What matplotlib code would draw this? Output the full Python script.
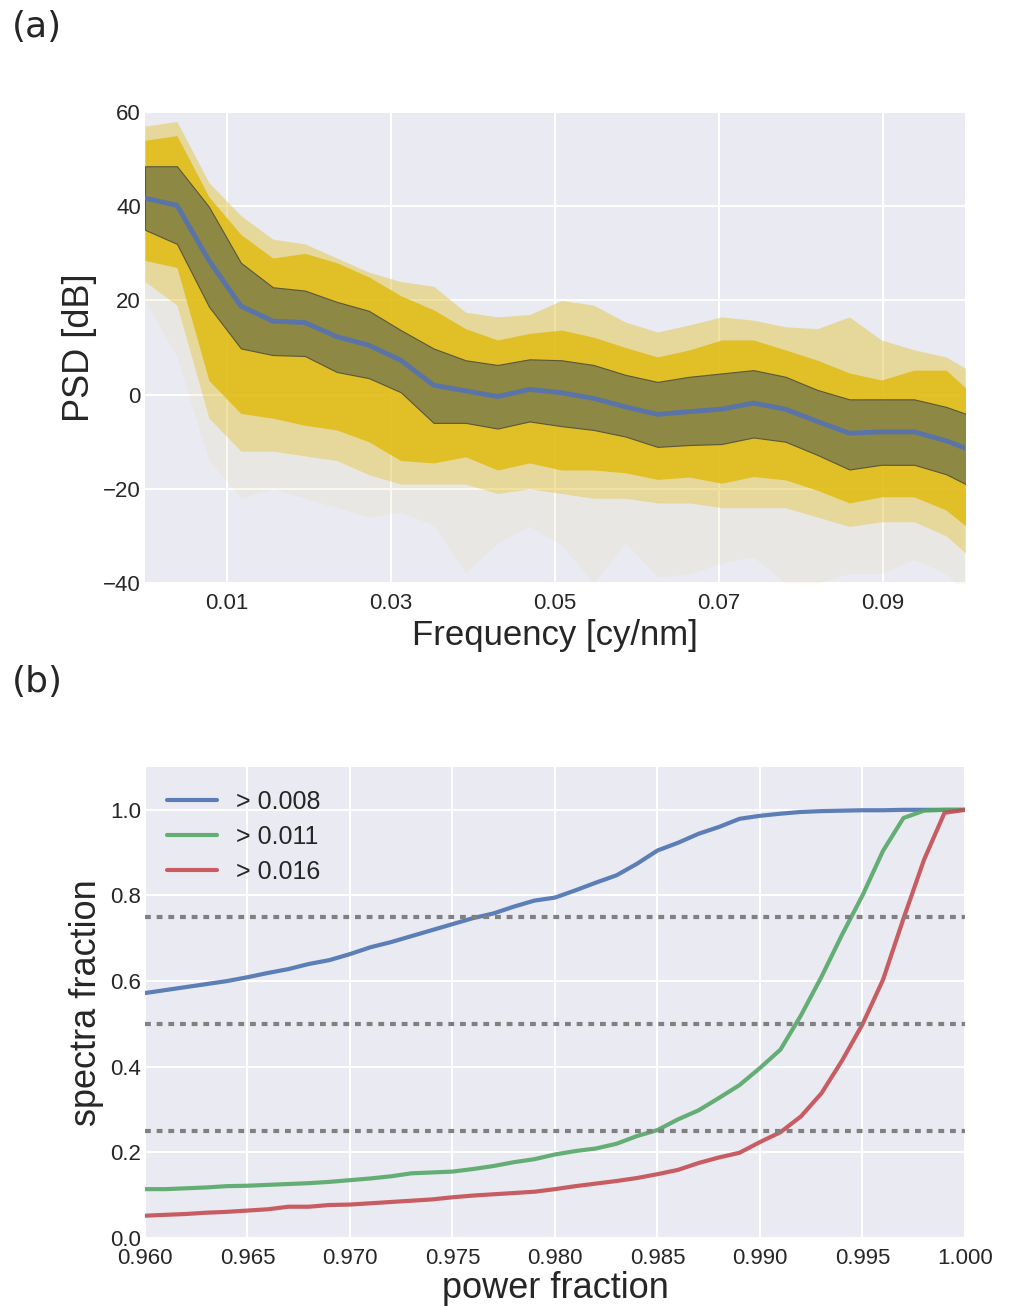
import numpy as np
from matplotlib import pyplot as plt

plt.style.use('seaborn-v0_8-darkgrid')
plt.rcParams['font.family'] = ['Liberation Sans', 'DejaVu Sans']

# ---- panel (a): spectra ----
freq = [0.0, 0.0039, 0.0078, 0.0117, 0.0156, 0.0195, 0.0234, 0.0273, 0.0312,
        0.0352, 0.0391, 0.0430, 0.0469, 0.0508, 0.0547, 0.0586, 0.0625, 0.0664,
        0.0703, 0.0742, 0.0781, 0.0820, 0.0859, 0.0898, 0.0938, 0.0977, 0.1016]

psd_mean = [41.7, 40.2, 28.5, 18.8, 15.6, 15.3, 12.3, 10.5, 7.3, 2.0, 0.8, -0.4, 1.1,
            0.4, -0.8, -2.6, -4.2, -3.6, -3.1, -1.8, -3.1, -5.7, -8.2, -7.9, -7.9,
            -9.8, -12.4]
psd_hi = [48.5, 48.5, 39.9, 28.0, 22.8, 22.1, 19.7, 17.8, 13.7, 9.8, 7.3, 6.3, 7.5,
          7.3, 6.3, 4.2, 2.7, 3.8, 4.5, 5.2, 3.8, 1.0, -1.0, -1.0, -1.0, -2.6, -5.0]
psd_lo = [35.0, 32.0, 18.7, 9.8, 8.4, 8.2, 4.8, 3.5, 0.5, -6.0, -6.0, -7.2, -5.7,
          -6.7, -7.5, -8.9, -11.1, -10.7, -10.5, -9.1, -10.0, -12.8, -15.9, -14.9,
          -14.9, -16.9, -20.3]

# envelopes of the individual spectra
cloud_top = [57, 58, 45, 38, 33, 32, 29, 26, 24, 23, 17.5, 16.5, 17, 20, 19, 15.4,
             13.3, 14.8, 16.5, 15.8, 14.4, 14, 16.5, 11.6, 9.5, 8, 4]
dense_top = [54, 55, 42, 34, 29, 30, 28, 25, 21, 18, 14, 11.6, 13, 13.7, 12.2, 10,
             8, 9.5, 11.6, 11.6, 9.5, 7.3, 4.6, 3.1, 5.2, 5.2, -1]
dense_bot = [28.5, 27, 3, -4, -5, -6.5, -7.5, -10, -14, -14.5, -13.2, -16, -14.5,
             -16, -16, -16.6, -18, -17.5, -18.8, -17.4, -18.1, -20.3, -23, -21.7,
             -21.7, -24.5, -30]
mid_bot = [24, 19, -5, -12, -12, -13, -14, -17, -19, -19, -19, -21, -20, -21, -22,
           -22, -23, -23, -24, -24, -24, -26, -28, -27, -27, -30, -36]
cloud_bot = [20, 8, -14, -22, -20, -22, -24, -26, -25, -27.7, -37.9, -31.5, -28,
             -32, -40, -31.5, -38.7, -38, -35.8, -34.4, -40, -40, -38, -38, -35,
             -38, -45]

# ---- panel (b): cumulative fractions ----
power_frac = [0.960, 0.961, 0.962, 0.963, 0.964, 0.965, 0.966, 0.967, 0.968, 0.969,
              0.970, 0.971, 0.972, 0.973, 0.974, 0.975, 0.976, 0.977, 0.978, 0.979,
              0.980, 0.981, 0.982, 0.983, 0.984, 0.985, 0.986, 0.987, 0.988, 0.989,
              0.990, 0.991, 0.992, 0.993, 0.994, 0.995, 0.996, 0.997, 0.998, 0.999,
              1.000]
frac_008 = [0.572, 0.579, 0.586, 0.593, 0.600, 0.609, 0.619, 0.628, 0.640, 0.649,
            0.663, 0.679, 0.691, 0.705, 0.719, 0.733, 0.747, 0.758, 0.774, 0.788,
            0.795, 0.812, 0.830, 0.847, 0.874, 0.905, 0.923, 0.944, 0.960, 0.979,
            0.986, 0.991, 0.995, 0.997, 0.998, 0.999, 0.999, 1.0, 1.0, 1.0, 1.0]
frac_011 = [0.114, 0.114, 0.116, 0.118, 0.121, 0.122, 0.124, 0.126, 0.128, 0.131,
            0.135, 0.139, 0.144, 0.151, 0.153, 0.155, 0.161, 0.168, 0.177, 0.184,
            0.195, 0.203, 0.209, 0.220, 0.238, 0.252, 0.277, 0.298, 0.327, 0.357,
            0.397, 0.440, 0.520, 0.610, 0.708, 0.800, 0.904, 0.981, 0.998, 1.0, 1.0]
frac_016 = [0.052, 0.054, 0.056, 0.059, 0.061, 0.064, 0.067, 0.073, 0.073, 0.077,
            0.078, 0.081, 0.084, 0.087, 0.090, 0.095, 0.099, 0.102, 0.105, 0.108,
            0.114, 0.121, 0.127, 0.133, 0.140, 0.149, 0.159, 0.175, 0.188, 0.199,
            0.224, 0.247, 0.284, 0.338, 0.414, 0.499, 0.603, 0.746, 0.883, 0.993,
            1.0]
thresholds = ['> 0.008', '> 0.011', '> 0.016']
levels = [0.25, 0.5, 0.75]

fig = plt.figure(figsize=(10.13, 13.06), dpi=100)
ax1 = fig.add_axes([0.1431, 0.5536, 0.8095, 0.3606])
ax2 = fig.add_axes([0.1431, 0.0521, 0.8095, 0.3606])

gold = '#e0b90a'
ax1.fill_between(freq, cloud_bot, cloud_top, color='#e8d68a', alpha=0.13, lw=0)
ax1.fill_between(freq, mid_bot, cloud_top, color='#e2c12e', alpha=0.4, lw=0)
ax1.fill_between(freq, dense_bot, dense_top, color=gold, alpha=0.8, lw=0)
ax1.fill_between(freq, psd_lo, psd_hi, color='#7e7f4a', alpha=0.85,
                 edgecolor='#4a4a3a', lw=0.8)
ax1.plot(freq, psd_mean, color='#5a74a8', lw=3.5)
ax1.set_xlim(0, 0.1)
ax1.set_ylim(-40, 60)
ax1.set_xticks([0.01, 0.03, 0.05, 0.07, 0.09])
ax1.set_xticklabels(['0.01', '0.03', '0.05', '0.07', '0.09'])
ax1.set_yticks([-40, -20, 0, 20, 40, 60])
ax1.set_xlabel('Frequency [cy/nm]', fontsize=25, labelpad=4)
ax1.set_ylabel('PSD [dB]', fontsize=26, labelpad=4)

colors = ['#4c72b0', '#55a868', '#c44e52']
for vals, lab, c in zip([frac_008, frac_011, frac_016], thresholds, colors):
    ax2.plot(power_frac, vals, color=c, lw=3, label=lab, alpha=0.9)
for lv in levels:
    ax2.axhline(lv, color='gray', ls=(0, (1.4, 1.4)), lw=3)
ax2.set_xlim(0.96, 1.0)
ax2.set_ylim(0, 1.1)
ax2.set_xticks([0.960, 0.965, 0.970, 0.975, 0.980, 0.985, 0.990, 0.995, 1.000])
ax2.set_xticklabels(['0.960', '0.965', '0.970', '0.975', '0.980', '0.985',
                     '0.990', '0.995', '1.000'])
ax2.set_yticks([0.0, 0.2, 0.4, 0.6, 0.8, 1.0])
ax2.set_xlabel('power fraction', fontsize=26, labelpad=2)
ax2.set_ylabel('spectra fraction', fontsize=26, labelpad=4)
ax2.legend(loc='upper left', fontsize=18, frameon=False, handlelength=2.0,
           handletextpad=0.75, borderaxespad=0.5, labelspacing=0.45)

for ax in (ax1, ax2):
    ax.tick_params(axis='y', labelsize=16, pad=3, colors='#262626')
    ax.tick_params(axis='x', labelsize=16, pad=7, colors='#262626')
    ax.grid(color='white', lw=1.4)

fig.text(0.012, 0.979, '(a)', fontsize=26, family='DejaVu Sans', va='center')
fig.text(0.012, 0.478, '(b)', fontsize=26, family='DejaVu Sans', va='center')

fig.savefig('out.png', dpi=100)
